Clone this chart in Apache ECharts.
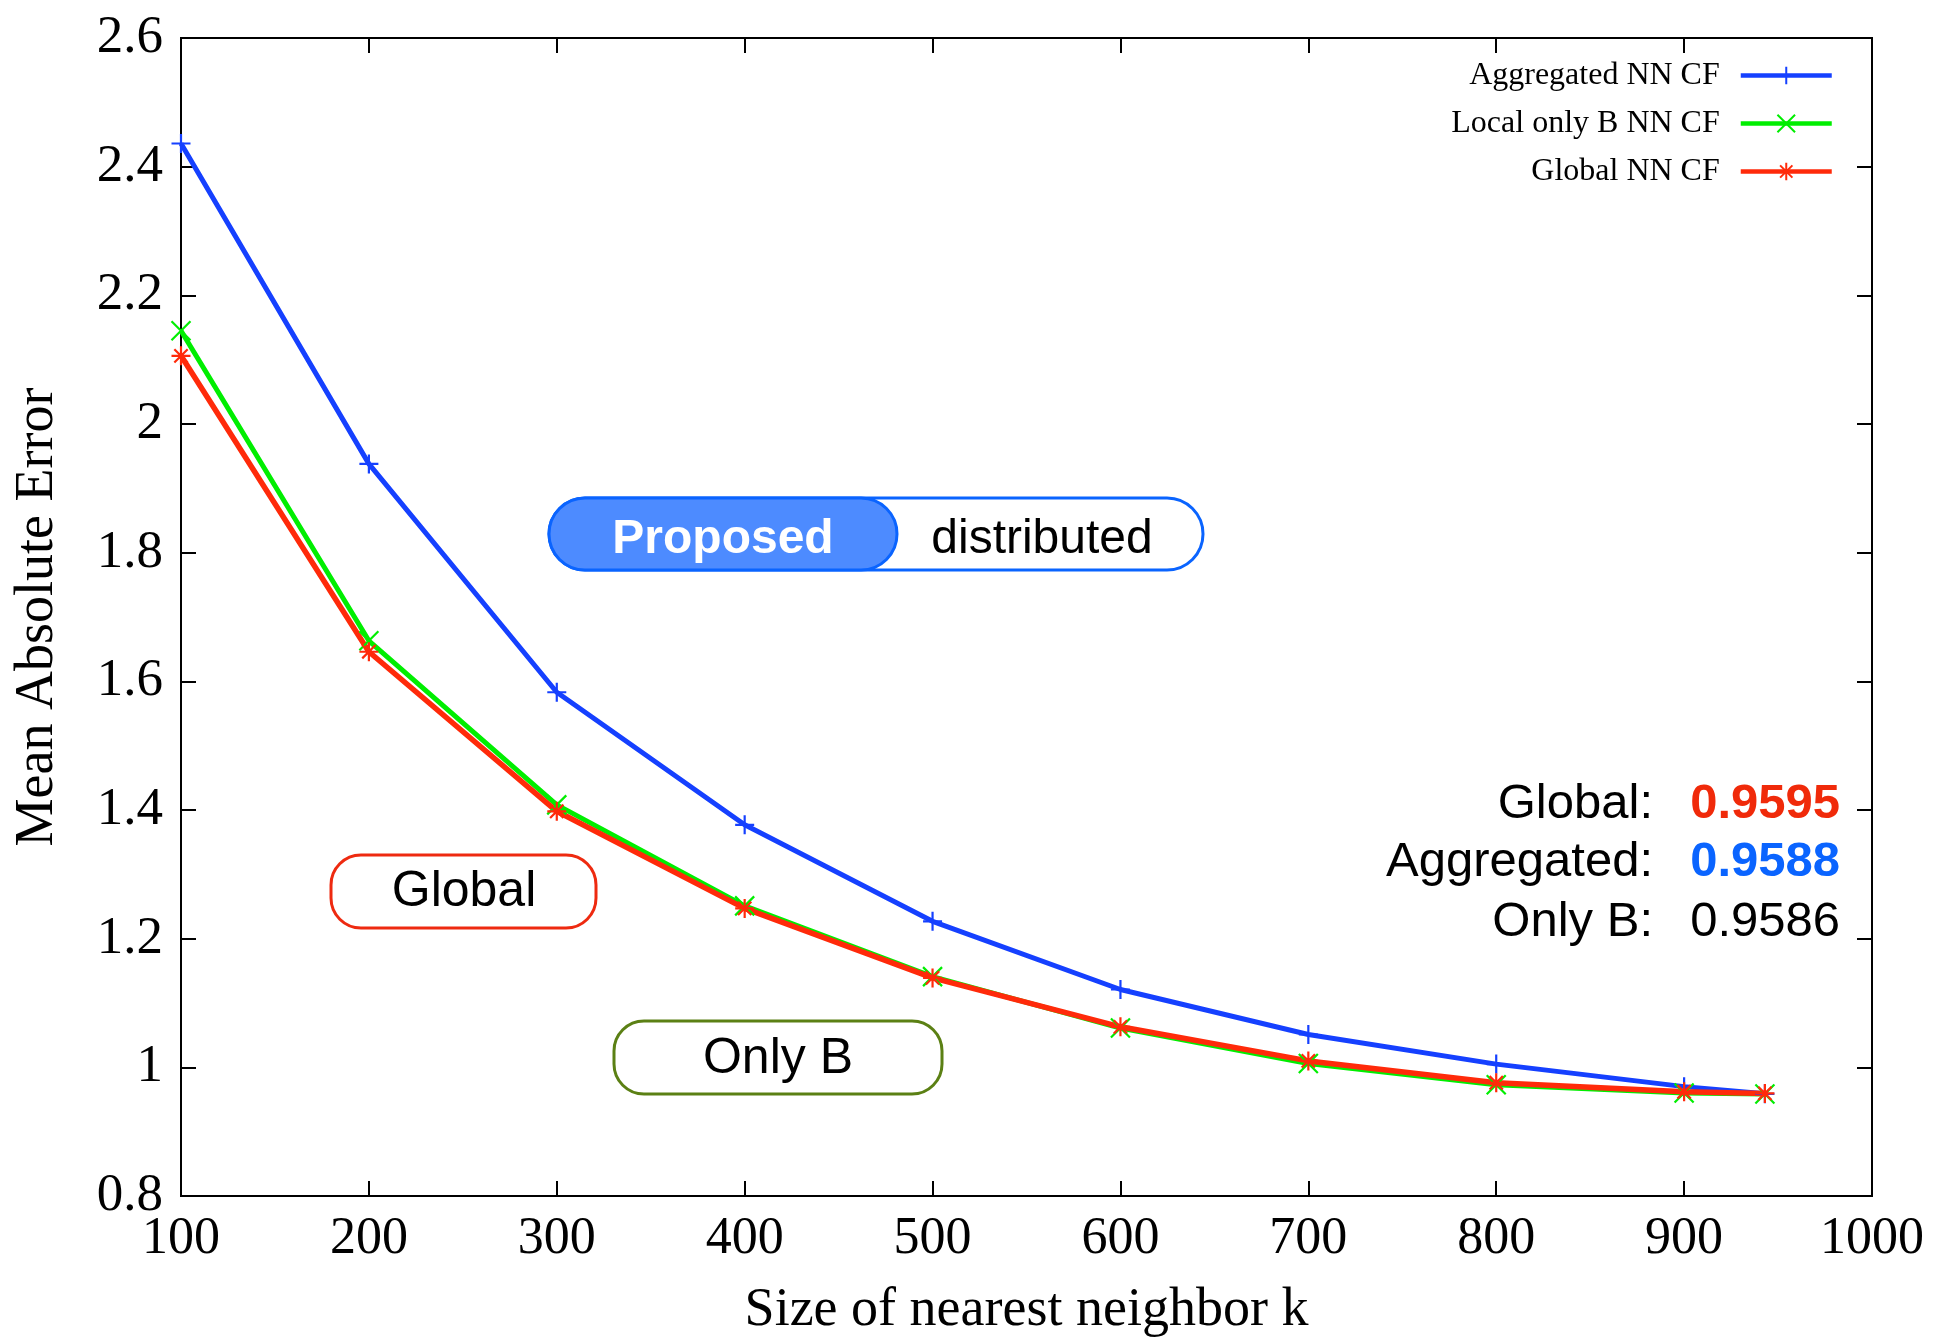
<!DOCTYPE html>
<html>
<head>
<meta charset="utf-8">
<script src="https://cdn.jsdelivr.net/npm/echarts@6/dist/echarts.min.js"></script>
<style>
html,body{margin:0;padding:0;background:#fff;}
#chart{width:1934px;height:1338px;}
</style>
</head>
<body>
<div id="chart"></div>
<script>
// ---- data ----
const kValues    = [100, 200, 300, 400, 500, 600, 700, 800, 900, 943];
const aggregated = [2.436, 1.938, 1.583, 1.377, 1.227, 1.121, 1.051, 1.005, 0.970, 0.9588];
const localOnlyB = [2.145, 1.663, 1.408, 1.251, 1.141, 1.061, 1.006, 0.973, 0.960, 0.9586];
const globalNN   = [2.106, 1.646, 1.398, 1.247, 1.139, 1.063, 1.010, 0.976, 0.962, 0.9595];
const seriesNames = ['Aggregated NN CF', 'Local only B NN CF', 'Global NN CF'];
const xRange = [100, 1000, 100];
const yRange = [0.8, 2.6, 0.2];
const summaryLabels = ['Global:', 'Aggregated:', 'Only B:'];
const summaryValues = ['0.9595', '0.9588', '0.9586'];
const boxLabels = ['Global', 'Only B'];
const pillLabels = ['Proposed', 'distributed'];

// ---- styles ----
const SERIF = '"Liberation Serif", "Times New Roman", serif';
const SANS = '"Liberation Sans", Arial, Helvetica, sans-serif';
const BLUE = '#1540ff', GREEN = '#00ee00', RED = '#ff2a0a';
const SYM_PLUS = 'path://M0,10L20,10M10,0L10,20';
const SYM_CROSS = 'path://M0,0L20,20M20,0L0,20';
const SYM_STAR = 'path://M0,10L20,10M10,0L10,20M3,3L17,17M17,3L3,17';

function mkSeries(name, vals, color, sym, width) {
  return {
    name: name, type: 'line',
    data: kValues.map((k, i) => [k, vals[i]]),
    symbol: sym, symbolSize: 19, showSymbol: true,
    lineStyle: {color: color, width: width},
    itemStyle: {color: color, borderColor: color, borderWidth: 2.2},
    emphasis: {disabled: true},
    z: 3
  };
}

const chart = echarts.init(document.getElementById('chart'), null, {renderer: 'canvas'});
const axisLine = {show: true, lineStyle: {color: '#000', width: 2}};
const tickIn = {show: true, inside: true, length: 15, lineStyle: {color: '#000', width: 2}};

const option = {
  backgroundColor: '#fff',
  animation: false,
  grid: {left: 181, right: 62, top: 38, bottom: 142, show: true, borderColor: '#000', borderWidth: 2,
         containLabel: false, outerBoundsMode: 'none'},
  legend: {
    orient: 'vertical', right: 95, top: 54, align: 'right',
    itemWidth: 91, itemHeight: 22, itemGap: 15,
    lineStyle: {width: 4.5},
    textStyle: {fontFamily: SERIF, fontSize: 32, color: '#000', lineHeight: 33, padding: [0, 16, 0, 0]},
    data: seriesNames
  },
  xAxis: [{
    type: 'value', min: xRange[0], max: xRange[1], interval: xRange[2],
    name: 'Size of nearest neighbor k', nameLocation: 'middle', nameGap: 88,
    nameTextStyle: {fontFamily: SERIF, fontSize: 54, color: '#000'},
    axisLine: axisLine, axisTick: tickIn, splitLine: {show: false},
    axisLabel: {fontFamily: SERIF, fontSize: 52, color: '#000', margin: 17, formatter: v => String(v)}
  }, {
    type: 'value', position: 'top', min: xRange[0], max: xRange[1], interval: xRange[2],
    axisLine: axisLine, axisTick: tickIn, splitLine: {show: false}, axisLabel: {show: false}
  }],
  yAxis: [{
    type: 'value', min: yRange[0], max: yRange[1], interval: yRange[2],
    name: 'Mean Absolute Error', nameLocation: 'middle', nameGap: 116, nameRotate: 90,
    nameTextStyle: {fontFamily: SERIF, fontSize: 54, color: '#000'},
    axisLine: axisLine, axisTick: tickIn, splitLine: {show: false},
    axisLabel: {fontFamily: SERIF, fontSize: 53, color: '#000', margin: 18}
  }, {
    type: 'value', position: 'right', min: yRange[0], max: yRange[1], interval: yRange[2],
    axisLine: axisLine, axisTick: tickIn, splitLine: {show: false}, axisLabel: {show: false}
  }],
  series: [
    mkSeries(seriesNames[0], aggregated, BLUE, SYM_PLUS, 5),
    mkSeries(seriesNames[1], localOnlyB, GREEN, SYM_CROSS, 5),
    mkSeries(seriesNames[2], globalNN, RED, SYM_STAR, 5.5)
  ],
  graphic: [
    // Proposed | distributed pill
    {type: 'rect', shape: {x: 549, y: 498, width: 654, height: 72, r: 36},
     style: {fill: '#fff', stroke: '#0a64ff', lineWidth: 3}, z: 10},
    {type: 'rect', shape: {x: 549, y: 498, width: 348, height: 72, r: 36},
     style: {fill: '#4d8bff', stroke: '#0a64ff', lineWidth: 3}, z: 11},
    {type: 'text', x: 723, y: 540, z: 12,
     style: {text: pillLabels[0], font: 'bold 48px ' + SANS, fill: '#fff', align: 'center', verticalAlign: 'middle'}},
    {type: 'text', x: 1042, y: 540, z: 12,
     style: {text: pillLabels[1], font: '48px ' + SANS, fill: '#000', align: 'center', verticalAlign: 'middle'}},
    // Global box
    {type: 'rect', shape: {x: 331, y: 855, width: 265, height: 73, r: 30},
     style: {fill: '#fff', stroke: '#ee2a10', lineWidth: 3}, z: 10},
    {type: 'text', x: 464, y: 892, z: 12,
     style: {text: boxLabels[0], font: '50px ' + SANS, fill: '#000', align: 'center', verticalAlign: 'middle'}},
    // Only B box
    {type: 'rect', shape: {x: 614, y: 1021, width: 328, height: 73, r: 30},
     style: {fill: '#fff', stroke: '#5b8014', lineWidth: 3}, z: 10},
    {type: 'text', x: 778, y: 1059, z: 12,
     style: {text: boxLabels[1], font: '50px ' + SANS, fill: '#000', align: 'center', verticalAlign: 'middle'}},
    // summary
    {type: 'text', x: 1653, y: 804, z: 12,
     style: {text: summaryLabels[0], font: '49px ' + SANS, fill: '#000', align: 'right', verticalAlign: 'middle'}},
    {type: 'text', x: 1653, y: 862, z: 12,
     style: {text: summaryLabels[1], font: '49px ' + SANS, fill: '#000', align: 'right', verticalAlign: 'middle'}},
    {type: 'text', x: 1653, y: 922, z: 12,
     style: {text: summaryLabels[2], font: '49px ' + SANS, fill: '#000', align: 'right', verticalAlign: 'middle'}},
    {type: 'text', x: 1840, y: 804, z: 12,
     style: {text: summaryValues[0], font: 'bold 49px ' + SANS, fill: '#f02a0a', align: 'right', verticalAlign: 'middle'}},
    {type: 'text', x: 1840, y: 862, z: 12,
     style: {text: summaryValues[1], font: 'bold 49px ' + SANS, fill: '#0a64ff', align: 'right', verticalAlign: 'middle'}},
    {type: 'text', x: 1840, y: 922, z: 12,
     style: {text: summaryValues[2], font: '49px ' + SANS, fill: '#000', align: 'right', verticalAlign: 'middle'}}
  ]
};
chart.setOption(option);
</script>
</body>
</html>
